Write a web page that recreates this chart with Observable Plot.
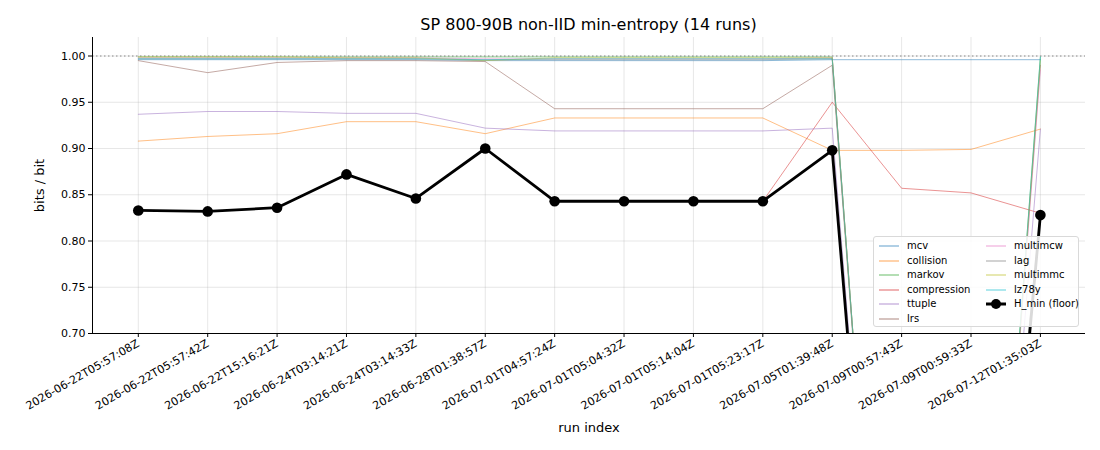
<!DOCTYPE html>
<html>
<head>
<meta charset="utf-8">
<script src="https://cdn.jsdelivr.net/npm/d3@7"></script>
<script src="https://cdn.jsdelivr.net/npm/@observablehq/plot@0.6"></script>
<style>
  html, body { margin: 0; padding: 0; background: #fff; }
  #wrap { position: relative; width: 1100px; height: 450px; font-family: "DejaVu Sans", sans-serif; }
  #title { height: 30px; box-sizing: border-box; padding-left: 92px; padding-right: 15px;
           text-align: center; font-size: 16px; color: #000; padding-top: 15px; line-height: 20px; overflow: visible; white-space: nowrap; }
  #legend { position: absolute; left: 873px; top: 236px; width: 206px; height: 91px; box-sizing: border-box;
            border: 1px solid #d9d9d9; border-radius: 3px; background: rgba(255,255,255,0.85);
            font-size: 10px; color: #000; }
  .li { position: absolute; height: 14px; line-height: 14px; white-space: nowrap; }
  .li svg { position: absolute; left: 0; top: 0; }
  .li .tx { position: absolute; left: 28px; top: 0; }
</style>
</head>
<body>
<div id="wrap">
  <div id="title">SP 800-90B non-IID min-entropy (14 runs)</div>
  <div id="chart"></div>
  <div id="legend"></div>
</div>
<script>
const runs = [
  "2026-06-22T05:57:08Z","2026-06-22T05:57:42Z","2026-06-22T15:16:21Z","2026-06-24T03:14:21Z",
  "2026-06-24T03:14:33Z","2026-06-28T01:38:57Z","2026-07-01T04:57:24Z","2026-07-01T05:04:32Z",
  "2026-07-01T05:14:04Z","2026-07-01T05:23:17Z","2026-07-05T01:39:48Z","2026-07-09T00:57:43Z",
  "2026-07-09T00:59:33Z","2026-07-12T01:35:03Z"
];
const seriesNames = ["mcv","collision","markov","compression","ttuple","lrs","multimcw","lag","multimmc","lz78y"];
const seriesColors = ["#1f77b4","#ff7f0e","#2ca02c","#d62728","#9467bd","#8c564b","#e377c2","#7f7f7f","#bcbd22","#17becf"];

const mcv         = [0.996,0.996,0.996,0.996,0.996,0.995,0.995,0.995,0.995,0.995,0.996,0.996,0.996,0.996];
const collision   = [0.908,0.913,0.916,0.929,0.929,0.916,0.933,0.933,0.933,0.933,0.898,0.898,0.899,0.921];
const markov      = [0.999,0.999,0.999,0.999,0.999,0.999,0.999,0.999,0.999,0.999,0.999,0.0,0.0,0.999];
const compression = [0.833,0.832,0.836,0.872,0.846,0.900,0.843,0.843,0.843,0.843,0.950,0.857,0.852,0.830];
const ttuple      = [0.937,0.940,0.940,0.938,0.938,0.922,0.919,0.919,0.919,0.919,0.922,0.0,0.0,0.921];
const lrs         = [0.995,0.982,0.993,0.995,0.995,0.994,0.943,0.943,0.943,0.943,0.990,0.0,0.0,0.990];
const multimcw    = [0.998,0.998,0.998,0.998,0.998,0.997,0.997,0.997,0.997,0.997,0.998,0.0,0.0,0.985];
const lag         = [0.997,0.997,0.997,0.997,0.997,0.996,0.996,0.996,0.996,0.996,0.997,0.0,0.08,0.830];
const multimmc    = [0.999,0.999,0.999,0.998,0.998,0.995,0.998,0.998,0.998,0.998,0.998,0.0,0.0,0.995];
const lz78y       = [0.997,0.997,0.997,0.997,0.997,0.996,0.997,0.997,0.997,0.997,0.997,0.0,0.0,0.999];
const hmin        = [0.833,0.832,0.836,0.872,0.846,0.900,0.843,0.843,0.843,0.843,0.898,0.0,0.0,0.828];

const yTicks = [0.70,0.75,0.80,0.85,0.90,0.95,1.00];
const yDomain = [0.70, 1.02];
const xDomain = [-0.66, 13.65];
const refLevel = [1.0];

const seriesValues = [mcv,collision,markov,compression,ttuple,lrs,multimcw,lag,multimmc,lz78y];
const long = [];
seriesNames.forEach((name, k) => seriesValues[k].forEach((v, i) => long.push({series: name, i, v})));
const hData = hmin.map((v, i) => ({i, v}));
const idx = runs.map((_, i) => i);

const chart = Plot.plot({
  width: 1100,
  height: 420,
  marginTop: 7,
  marginLeft: 92,
  marginRight: 15,
  marginBottom: 117,
  style: {fontFamily: "DejaVu Sans, sans-serif", fontSize: "10px", background: "#fff", color: "#000"},
  x: {domain: xDomain},
  y: {domain: yDomain},
  color: {domain: seriesNames, range: seriesColors},
  marks: [
    Plot.gridX(idx, {stroke: "#b0b0b0", strokeOpacity: 0.3}),
    Plot.gridY(yTicks, {stroke: "#b0b0b0", strokeOpacity: 0.3}),
    Plot.ruleY(refLevel, {stroke: "#888", strokeWidth: 1, strokeDasharray: "1.5,2.5"}),
    Plot.line(long, {x: "i", y: "v", z: "series", stroke: "series", strokeWidth: 1, strokeOpacity: 0.5, clip: true}),
    Plot.line(hData, {x: "i", y: "v", stroke: "#000", strokeWidth: 2.8, clip: true}),
    Plot.dot(hData, {x: "i", y: "v", r: 5.3, fill: "#000", stroke: "none", clip: true}),
    Plot.ruleX([xDomain[0]], {stroke: "#000", strokeWidth: 1}),
    Plot.ruleY([yDomain[0]], {stroke: "#000", strokeWidth: 1}),
    Plot.axisY(yTicks, {tickFormat: d3.format(".2f"), tickSize: 4, tickPadding: 3, fontSize: 11,
      label: "bits / bit", labelAnchor: "center", labelArrow: "none", labelOffset: 58}),
    Plot.axisX(idx, {tickFormat: i => runs[i], tickRotate: -30, tickSize: 4, tickPadding: 5, fontSize: 11.1,
      label: "run index", labelAnchor: "center", labelArrow: "none", labelOffset: 98})
  ]
});
chart.querySelectorAll("[aria-label='y-axis label'] text, [aria-label='x-axis label'] text").forEach(t => t.setAttribute("font-size", "13"));
document.getElementById("chart").appendChild(chart);

// legend
const leg = document.getElementById("legend");
const entries = seriesNames.map((n, k) => ({n, c: seriesColors[k], h: false})).concat([{n: "H_min (floor)", c: "#000", h: true}]);
entries.forEach((e, k) => {
  const col = k < 6 ? 0 : 1;
  const row = k < 6 ? k : k - 6;
  const d = document.createElement("div");
  d.className = "li";
  d.style.left = (col === 0 ? 5 : 112) + "px";
  d.style.top = (2 + row * 14.6) + "px";
  const svg = d3.create("svg").attr("width", 22).attr("height", 14);
  if (e.h) {
    svg.append("line").attr("x1", 0).attr("x2", 20).attr("y1", 7).attr("y2", 7).attr("stroke", "#000").attr("stroke-width", 3);
    svg.append("circle").attr("cx", 10).attr("cy", 7).attr("r", 5).attr("fill", "#000");
  } else {
    svg.append("line").attr("x1", 0).attr("x2", 20).attr("y1", 7).attr("y2", 7).attr("stroke", e.c).attr("stroke-width", 1.3).attr("stroke-opacity", 0.55);
  }
  d.appendChild(svg.node());
  const tx = document.createElement("div");
  tx.className = "tx";
  tx.textContent = e.n;
  d.appendChild(tx);
  leg.appendChild(d);
});
</script>
</body>
</html>
